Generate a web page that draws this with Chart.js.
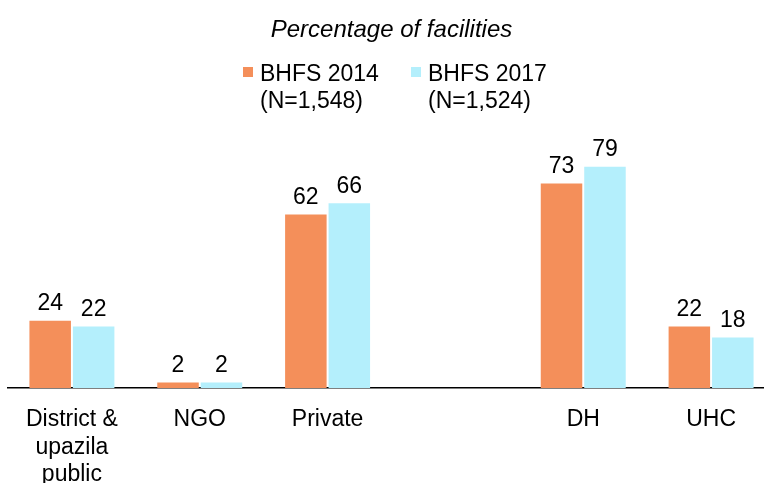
<!DOCTYPE html>
<html>
<head>
<meta charset="utf-8">
<script src="https://cdn.jsdelivr.net/npm/chart.js@4/dist/chart.umd.min.js"></script>
<style>
	html, body { margin: 0; padding: 0; background: #ffffff; overflow: hidden; }
	#wrap { width: 776px; height: 483px; }
</style>
</head>
<body>
<div id="wrap"><canvas id="chart" width="776" height="483"></canvas></div>
<script>
const CATEGORIES = [['District &', 'upazila', 'public'], 'NGO', 'Private', '', 'DH', 'UHC'];
const BHFS_2014 = [24, 2, 62, null, 73, 22];
const BHFS_2017 = [22, 2, 66, null, 79, 18];
const SERIES_NAMES = ['BHFS 2014', 'BHFS 2017'];
const SAMPLE_SIZES = ['(N=1,548)', '(N=1,524)'];
const TITLE = 'Percentage of facilities';

const ORANGE = '#F48F5A';
const BLUE = '#B4EFFC';
const FONT = "'Liberation Sans', Arial, sans-serif";

Chart.defaults.font.family = FONT;
Chart.defaults.color = '#000000';

let headerPlugin = {
	id: 'headerAndLegend',
	afterDraw: (chart) => {
		const { ctx } = chart;
		ctx.save();
		ctx.fillStyle = '#000000';
		ctx.textBaseline = 'alphabetic';
		// title
		ctx.font = 'italic 24px ' + FONT;
		ctx.textAlign = 'center';
		ctx.fillText(TITLE, 391.5, 37);
		// legend, two lines per item
		ctx.font = '23px ' + FONT;
		ctx.textAlign = 'left';
		const items = [{ x: 243, color: ORANGE }, { x: 411, color: BLUE }];
		items.forEach((it, i) => {
			ctx.fillStyle = it.color;
			ctx.fillRect(it.x, 67, 10, 10);
			ctx.fillStyle = '#000000';
			ctx.fillText(SERIES_NAMES[i], it.x + 17, 81);
			ctx.fillText(SAMPLE_SIZES[i], it.x + 17, 107.5);
		});
		ctx.restore();
	},
};

let valueLabelPlugin = {
	id: 'valueLabels',
	afterDatasetsDraw: (chart) => {
		const { ctx } = chart;
		ctx.save();
		ctx.font = '23px ' + FONT;
		ctx.fillStyle = '#000000';
		ctx.textAlign = 'center';
		ctx.textBaseline = 'alphabetic';
		chart.data.datasets.forEach((ds, di) => {
			chart.getDatasetMeta(di).data.forEach((bar, i) => {
				if (ds.data[i] == null) return;
				ctx.fillText(ds.data[i], bar.x, bar.y - 10.5);
			});
		});
		ctx.restore();
	},
};

let chartData = {
	labels: CATEGORIES,
	datasets: [
		{
			label: SERIES_NAMES[0],
			data: BHFS_2014,
			backgroundColor: ORANGE,
			borderWidth: 0,
		},
		{
			label: SERIES_NAMES[1],
			data: BHFS_2017,
			backgroundColor: BLUE,
			borderWidth: 0,
		},
	]
};

let chartOptions = {
	responsive: false,
	animation: false,
	devicePixelRatio: 1,
	categoryPercentage: 0.68,
	barPercentage: 0.955,
	layout: {
		padding: { top: 108, left: 8, right: 1, bottom: 0 },
	},
	scales: {
		x: {
			grid: { display: false, drawTicks: false },
			border: { display: true, color: '#000000', width: 1.5 },
			ticks: {
				color: '#000000',
				padding: 18,
				maxRotation: 0,
				autoSkip: false,
				font: { size: 23, lineHeight: 1.2 },
			},
			afterFit: (scale) => { scale.height = 95; },
		},
		y: {
			display: false,
			min: 0,
			max: 100,
		},
	},
	plugins: {
		legend: { display: false },
		tooltip: { enabled: false },
		title: { display: false },
	},
};

new Chart(document.getElementById('chart'), {
	type: 'bar',
	data: chartData,
	options: chartOptions,
	plugins: [headerPlugin, valueLabelPlugin],
});
</script>
</body>
</html>
